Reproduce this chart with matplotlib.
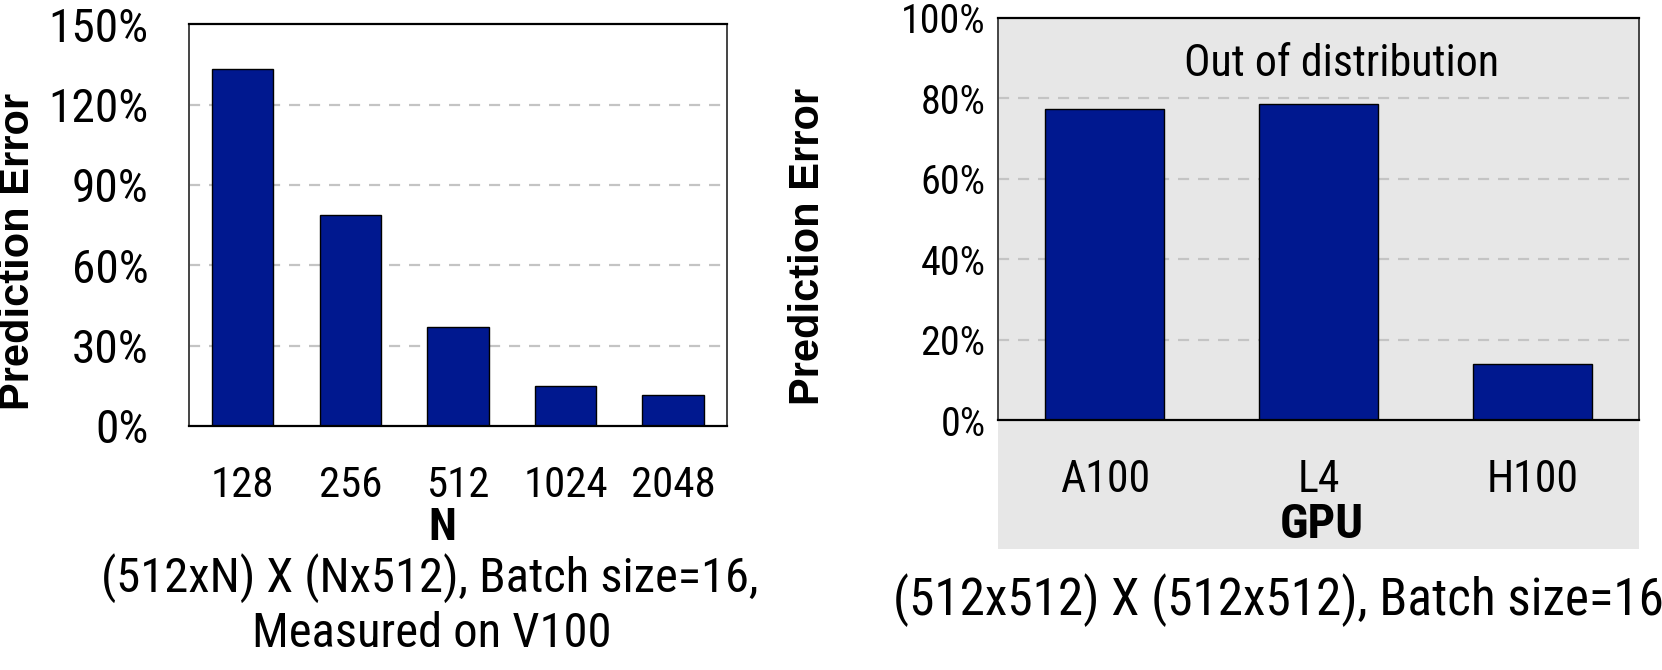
import matplotlib
matplotlib.use('Agg')
import matplotlib.pyplot as plt
from matplotlib import font_manager as fm
from matplotlib.patches import Rectangle

# ---------------- data ----------------
n_labels = ['128', '256', '512', '1024', '2048']
n_errors = [133.2, 78.8, 37.0, 14.8, 11.5]
gpu_labels = ['A100', 'L4', 'H100']
gpu_errors = [77.2, 78.6, 14.0]
left_yticks = [0, 30, 60, 90, 120, 150]
right_yticks = [0, 20, 40, 60, 80, 100]
left_subtitle = ['(512xN) X (Nx512), Batch size=16,', 'Measured on V100']
right_subtitle = '(512x512) X (512x512), Batch size=16'
annotation = 'Out of distribution'

# ---------------- fonts ----------------
names = {f.name for f in fm.fontManager.ttflist}
narrow_family = None
for cand in ['Roboto Condensed', 'Liberation Sans Narrow', 'Open Sans Condensed']:
    if cand in names:
        narrow_family = cand
        break


def nfont(size, bold=False):
    if narrow_family:
        return fm.FontProperties(family=narrow_family, size=size,
                                 weight='bold' if bold else 'normal')
    return fm.FontProperties(family='DejaVu Sans', stretch='condensed', size=size,
                             weight='bold' if bold else 'normal')


label_font = fm.FontProperties(family=['Liberation Sans', 'DejaVu Sans'], size=30, weight='bold')

BAR = '#00188F'
BG = '#E7E7E7'
GRID = '#C4C4C4'

fig = plt.figure(figsize=(16.62, 6.7), dpi=100)
renderer = fig.canvas.get_renderer()


def fit(text, target_px, bold=False):
    t = fig.text(0, 0, text, fontproperties=nfont(20, bold))
    w = t.get_window_extent(renderer=renderer).width
    t.remove()
    return 20 * target_px / w


ax1 = fig.add_axes([0.1137, 0.3642, 0.3237, 0.5995])
ax2 = fig.add_axes([0.6005, 0.3731, 0.3857, 0.6005])

fig.add_artist(Rectangle((0.6005, 0.1806), 0.3857, 0.9736 - 0.1806,
                         transform=fig.transFigure, facecolor=BG,
                         edgecolor='none', zorder=-5))


def style(ax, xlabels, yticks, ymax, xsize, ysize, ypad):
    ax.set_ylim(0, ymax)
    ax.set_xlim(-0.5, len(xlabels) - 0.5)
    ax.set_yticks(yticks)
    ax.set_yticklabels([f'{t}%' for t in yticks])
    ax.set_xticks(range(len(xlabels)))
    ax.set_xticklabels(xlabels)
    for lab in ax.get_xticklabels():
        lab.set_fontproperties(nfont(xsize))
    for lab in ax.get_yticklabels():
        lab.set_fontproperties(nfont(ysize))
    ax.tick_params(axis='x', length=0, pad=28)
    ax.tick_params(axis='y', length=0, pad=ypad)
    for t in yticks[1:-1]:
        ax.axhline(t, color=GRID, lw=1.6, ls=(0, (5, 4)), zorder=0.5)
    for side in ['top', 'bottom']:
        ax.spines[side].set_color('black')
        ax.spines[side].set_linewidth(1.6)
    for side in ['left', 'right']:
        ax.spines[side].set_color('#444444')
        ax.spines[side].set_linewidth(1.4)


# ---------------- left chart ----------------
ax1.bar(range(len(n_labels)), n_errors, width=0.57, color=BAR,
        edgecolor='black', linewidth=1.0, zorder=2)
style(ax1, n_labels, left_yticks, 150, fit('2048', 85), fit('150%', 100), 29)
ax1.set_xlabel('N', fontproperties=nfont(fit('N', 28, True), bold=True), va='center')
ax1.xaxis.set_label_coords(0.47, -0.255)
ax1.set_ylabel('Prediction Error', fontproperties=label_font, va='center')
ax1.yaxis.set_label_coords(-0.317, 0.435)

sub_size = fit(left_subtitle[0], 656)
fig.text(430 / 1662, 1 - 578 / 670, left_subtitle[0], fontproperties=nfont(sub_size),
         ha='center', va='center')
fig.text(432 / 1662, 1 - 634 / 670, left_subtitle[1], fontproperties=nfont(sub_size),
         ha='center', va='center')

# ---------------- right chart ----------------
ax2.set_facecolor(BG)
ax2.bar(range(len(gpu_labels)), gpu_errors, width=0.557, color=BAR,
        edgecolor='black', linewidth=1.0, zorder=2)
style(ax2, gpu_labels, right_yticks, 100, fit('A100', 90), fit('100%', 85), 9)
ax2.set_xlabel('GPU', fontproperties=nfont(fit('GPU', 84, True), bold=True), va='center')
ax2.xaxis.set_label_coords(0.505, -0.262)
ax2.set_ylabel('Prediction Error', fontproperties=label_font, va='center')
ax2.yaxis.set_label_coords(-0.296, 0.4325)
ax2.text((1342 - 998) / 641, 88.5, annotation, transform=ax2.get_yaxis_transform(),
         fontproperties=nfont(fit(annotation, 314)), ha='center', va='center')

fig.text(1278 / 1662, 1 - 600 / 670, right_subtitle, fontproperties=nfont(fit(right_subtitle, 770)),
         ha='center', va='center')

fig.savefig('out.png', dpi=100)
